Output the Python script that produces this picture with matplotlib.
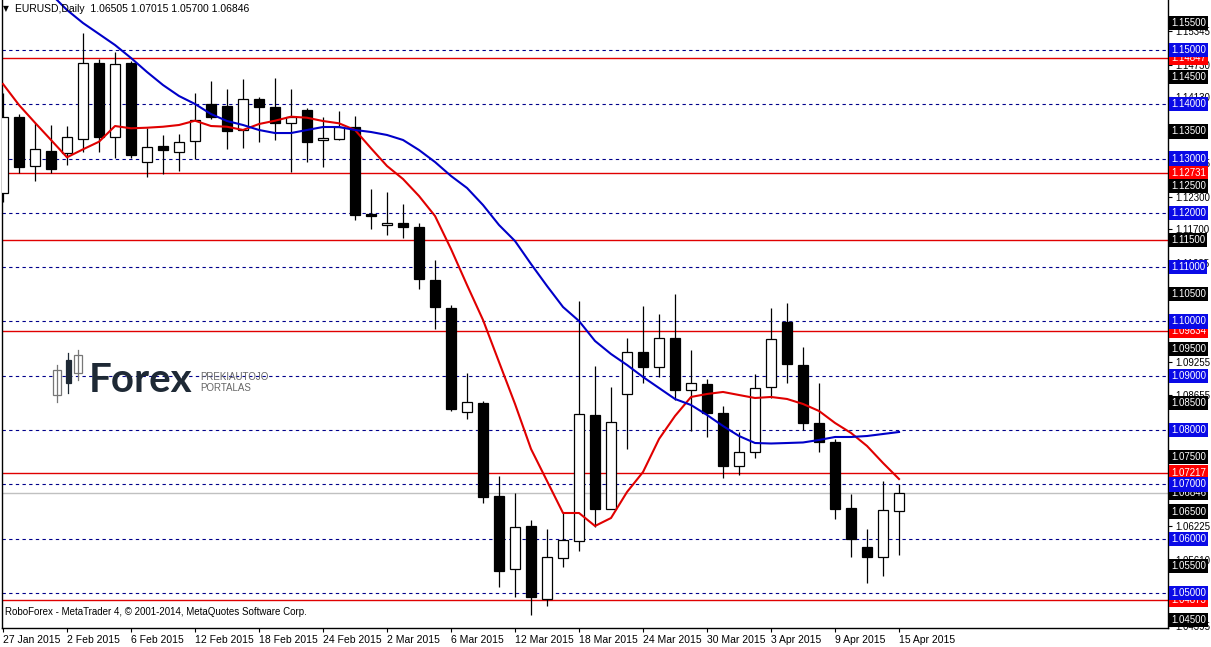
import matplotlib
matplotlib.use("Agg")
import matplotlib.pyplot as plt
from matplotlib.patches import Rectangle

# EURUSD daily bars, 27 Jan 2015 .. 15 Apr 2015
opens = [1.1237, 1.1377, 1.1286, 1.1314, 1.1310, 1.1337, 1.1476, 1.1340, 1.1476, 1.1294,
         1.1323, 1.1313, 1.1333, 1.1401, 1.1397, 1.1353, 1.1409, 1.1395, 1.1365, 1.1390,
         1.1334, 1.1336, 1.1358, 1.1198, 1.1177, 1.1181, 1.1174, 1.1076, 1.1024, 1.0833,
         1.0849, 1.0679, 1.0544, 1.0623, 1.0488, 1.0565, 1.0596, 1.0827, 1.0655, 1.0866,
         1.0943, 1.0917, 1.0969, 1.0873, 1.0885, 1.0831, 1.0733, 1.0760, 1.0879, 1.0999,
         1.0919, 1.0813, 1.0778, 1.0656, 1.0585, 1.0566, 1.06505]
highs = [1.1421, 1.1382, 1.1366, 1.1362, 1.1360, 1.1531, 1.1483, 1.1497, 1.1480, 1.1356,
         1.1344, 1.1345, 1.1421, 1.1442, 1.1428, 1.1446, 1.1413, 1.1448, 1.1428, 1.1393,
         1.1377, 1.1388, 1.1379, 1.1244, 1.1238, 1.1216, 1.1182, 1.1113, 1.1030, 1.0906,
         1.0853, 1.0716, 1.0684, 1.0634, 1.0617, 1.0648, 1.1037, 1.0918, 1.0880, 1.0969,
         1.1029, 1.1014, 1.1050, 1.0948, 1.0894, 1.0844, 1.0797, 1.0903, 1.1024, 1.1034,
         1.0953, 1.0886, 1.0783, 1.0682, 1.0617, 1.0706, 1.07015]
lows = [1.1220, 1.1274, 1.1259, 1.1274, 1.1288, 1.1313, 1.1313, 1.1302, 1.1301, 1.1267,
        1.1272, 1.1278, 1.1299, 1.1373, 1.1317, 1.1319, 1.1331, 1.1334, 1.1276, 1.1293,
        1.1285, 1.1334, 1.1187, 1.1170, 1.1159, 1.1153, 1.1059, 1.0986, 1.0836, 1.0821,
        1.0665, 1.0511, 1.0492, 1.0460, 1.0476, 1.0548, 1.0578, 1.0622, 1.0654, 1.0766,
        1.0887, 1.0898, 1.0856, 1.0799, 1.0788, 1.0711, 1.0717, 1.0748, 1.0860, 1.0886,
        1.0800, 1.0760, 1.0636, 1.0566, 1.0519, 1.0531, 1.05700]
closes = [1.1377, 1.1284, 1.1317, 1.1281, 1.1339, 1.1476, 1.1340, 1.1474, 1.1307, 1.1321,
          1.1315, 1.1330, 1.1371, 1.1377, 1.1350, 1.1409, 1.1395, 1.1365, 1.1377, 1.1331,
          1.1338, 1.1359, 1.1196, 1.1194, 1.1182, 1.1174, 1.1078, 1.1026, 1.0839, 1.0852,
          1.0677, 1.0541, 1.0621, 1.0492, 1.0566, 1.0598, 1.0829, 1.0655, 1.0814, 1.0943,
          1.0917, 1.0969, 1.0873, 1.0886, 1.0831, 1.0733, 1.0760, 1.0877, 1.0967, 1.0921,
          1.0813, 1.0778, 1.0655, 1.0599, 1.0566, 1.0653, 1.06846]

# moving averages
ma_red = [1.14374, 1.13987, 1.13661, 1.13343, 1.13024, 1.13171, 1.13311, 1.1360, 1.13558, 1.13569,
          1.13587, 1.13619, 1.13698, 1.1360, 1.13587, 1.13527, 1.13637, 1.13698, 1.13772, 1.13753,
          1.13692, 1.1365, 1.13527, 1.1319, 1.12864, 1.12624, 1.12311, 1.11943, 1.11335, 1.10672,
          1.10028, 1.09254, 1.08481, 1.07652, 1.07063, 1.06473, 1.06473, 1.06234, 1.06381, 1.0686,
          1.07228, 1.07836, 1.0826, 1.0861, 1.08665, 1.08702, 1.08646, 1.08591, 1.0861, 1.08573,
          1.08481, 1.08352, 1.08131, 1.07947, 1.07707, 1.07394, 1.07099]
ma_blue_start = 3
ma_blue = [1.16031, 1.15737, 1.15497, 1.15295, 1.15092, 1.14853, 1.14595, 1.14355, 1.14153, 1.14006,
           1.13821, 1.13692, 1.13619, 1.13527, 1.13471, 1.13471, 1.13527, 1.13582, 1.13582, 1.13527,
           1.1349, 1.13435, 1.13343, 1.13158, 1.12937, 1.1268, 1.12459, 1.12145, 1.11777, 1.11482,
           1.11059, 1.10654, 1.10267, 1.10009, 1.09641, 1.09401, 1.09199, 1.08978, 1.08775, 1.08573,
           1.08462, 1.08278, 1.08075, 1.07891, 1.07762, 1.07753, 1.07762, 1.07772, 1.07818, 1.07873,
           1.07873, 1.07891, 1.07928, 1.07965]

date_labels = ["27 Jan 2015", "2 Feb 2015", "6 Feb 2015", "12 Feb 2015", "18 Feb 2015",
               "24 Feb 2015", "2 Mar 2015", "6 Mar 2015", "12 Mar 2015", "18 Mar 2015",
               "24 Mar 2015", "30 Mar 2015", "3 Apr 2015", "9 Apr 2015", "15 Apr 2015"]

grid_levels = [1.15, 1.14, 1.13, 1.12, 1.11, 1.10, 1.09, 1.08, 1.07, 1.06, 1.05]
red_levels = [1.14847, 1.12731, 1.11495, 1.09834, 1.07217, 1.04873]
scale_levels = [1.155, 1.145, 1.135, 1.125, 1.115, 1.105, 1.095, 1.085, 1.075, 1.065, 1.055, 1.045]
minor_levels = [1.15345, 1.14730, 1.14130, 1.12915, 1.12300, 1.11700, 1.11085,
                1.09255, 1.08655, 1.06225, 1.05610, 1.04395]
last_price = 1.06846

plt.rcParams['font.family'] = ['Liberation Sans', 'DejaVu Sans']

W, H = 1211, 647
fig = plt.figure(figsize=(W / 100, H / 100), dpi=100)
ax = fig.add_axes([2 / W, 19 / H, 1166 / W, 628 / H])
ax.set_xlim(-0.0625, 72.81)
ax.set_ylim(1.04355, 1.15921)

# horizontal levels
for lv in grid_levels:
    ax.axhline(lv, color='#00008b', lw=0.8, ls=(0, (3, 3)), zorder=1)
for lv in red_levels:
    ax.axhline(lv, color='#e00000', lw=1.0, zorder=1)
ax.axhline(last_price, color='#c0c0c0', lw=1.0, zorder=1)

# candles
for i in range(len(opens)):
    o, h, l, c = opens[i], highs[i], lows[i], closes[i]
    ax.vlines(i, l, h, color='black', lw=0.9, zorder=3)
    up = c >= o
    ax.bar(i, max(abs(c - o), 0.00005), bottom=min(o, c), width=0.62,
           facecolor='white' if up else 'black', edgecolor='black', lw=0.9, zorder=4)

ax.plot(range(len(ma_red)), ma_red, color='#e00000', lw=1.5, zorder=5)
ax.plot(range(ma_blue_start, ma_blue_start + len(ma_blue)), ma_blue, color='#0000c8', lw=1.5, zorder=5)

# axes styling
for s in ax.spines.values():
    s.set_color('black')
    s.set_linewidth(1.0)
ax.spines['top'].set_visible(False)
ax.set_xticks(range(0, 4 * len(date_labels), 4))
ax.set_xticklabels(date_labels, fontsize=7.5, ha='left')
ax.tick_params(axis='x', length=3, pad=2, color='black')
ax.yaxis.tick_right()
ax.set_yticks(minor_levels)
ax.set_yticklabels(["%.5f" % v for v in minor_levels], fontsize=7)
ax.tick_params(axis='y', length=3, pad=2, color='black')


def price_tag(level, fc, z):
    ax.annotate("%.5f" % level, xy=(1, level), xycoords=('axes fraction', 'data'),
                xytext=(2.2, 0), textcoords='offset points', ha='left', va='center',
                fontsize=7, color='white', annotation_clip=False, zorder=z,
                bbox=dict(boxstyle='square,pad=0.22', fc=fc, ec='none'))


for lv in red_levels:
    price_tag(lv, '#ff0000', 6)
for lv in scale_levels:
    price_tag(lv, 'black', 7)
price_tag(last_price, 'black', 7)
for lv in grid_levels:
    price_tag(lv, '#0a0ae6', 8)

# overlay in pixel coordinates for header, logo and footer
ov = fig.add_axes([0, 0, 1, 1], facecolor='none')
ov.set_xlim(0, W)
ov.set_ylim(H, 0)
ov.axis('off')

ov.text(3, 9, "\u25bc", fontsize=5.5, va='center', ha='left', family='DejaVu Sans')
ov.text(15, 9, "EURUSD,Daily  1.06505 1.07015 1.05700 1.06846", fontsize=7.5, va='center', ha='left')
ov.text(5, 612, "RoboForex - MetaTrader 4, \u00a9 2001-2014, MetaQuotes Software Corp.",
        fontsize=7, va='center', ha='left')

# logo
logo_dark = '#1e2935'
ov.plot([57, 57], [365, 402], color='#777777', lw=0.9)
ov.add_patch(Rectangle((53, 370), 8, 25, fc='white', ec='#777777', lw=0.9))
ov.plot([68, 68], [353, 393], color=logo_dark, lw=0.9)
ov.add_patch(Rectangle((65.5, 360), 5, 23, fc=logo_dark, ec=logo_dark, lw=0.9))
ov.plot([78, 78], [350, 380], color='#777777', lw=0.9)
ov.add_patch(Rectangle((74, 355), 8, 18, fc='white', ec='#777777', lw=0.9))
ov.text(89, 380, "Forex", fontsize=29, fontweight='bold', color=logo_dark,
        family=['Lato', 'DejaVu Sans'], va='center', ha='left')
ov.text(200, 377, "PREKIAUTOJO", fontsize=7, color='#666666', va='center', ha='left')
ov.text(200, 388, "PORTALAS", fontsize=7, color='#666666', va='center', ha='left')

fig.savefig("out.png", dpi=100, facecolor='white')
